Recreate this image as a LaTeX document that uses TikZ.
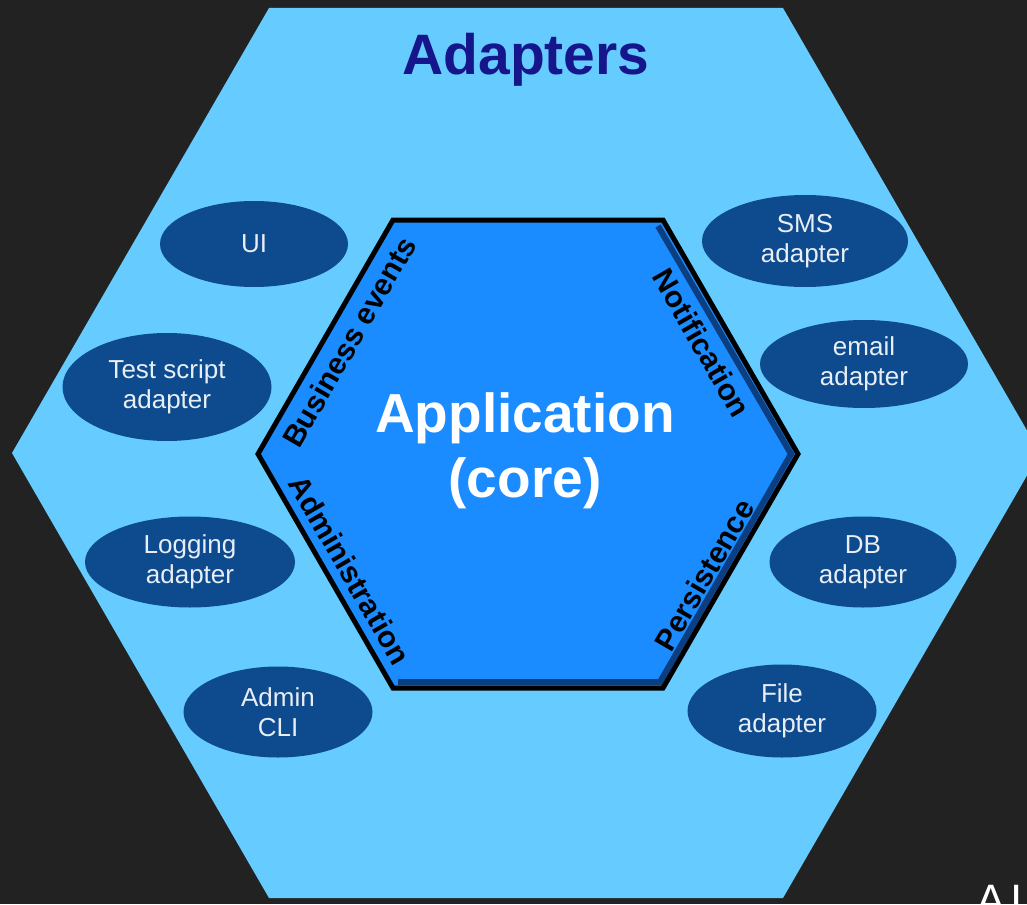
\documentclass[tikz,border=0pt]{standalone}
\usepackage{fontspec}
\setmainfont{Liberation Sans}
\usetikzlibrary{shapes.geometric}
\definecolor{bg}{HTML}{222222}
\definecolor{outerblue}{HTML}{66CCFF}
\definecolor{coreblue}{HTML}{1A8CFF}
\definecolor{ovalblue}{HTML}{0E4A8E}
\definecolor{ovaltext}{HTML}{E8EEF6}
\definecolor{titleblue}{HTML}{16168C}
\definecolor{bevel}{HTML}{0B3F82}
\tikzset{
  adapter/.style={ellipse, fill=ovalblue, text=ovaltext, inner sep=0pt, align=center,
    font=\fontsize{26}{30}\selectfont},
  edgelabel/.style={font=\bfseries\fontsize{30}{32}\selectfont, text=black, inner sep=0pt},
  corelabel/.style={font=\bfseries\fontsize{55}{65}\selectfont, text=white, align=center, inner sep=0pt},
}
\begin{document}
\begin{tikzpicture}[x=1pt,y=-1pt]
\useasboundingbox (0,0) rectangle (1027,904);
\fill[bg] (0,0) rectangle (1027,904);
% outer hexagon (adapters)
\fill[outerblue] (12,453) -- (269,8) -- (783,8) -- (1040,453) -- (783,898) -- (269,898) -- cycle;
% inner hexagon (core)
\fill[coreblue] (258,454) -- (393,220) -- (663,220) -- (798,454) -- (663,688) -- (393,688) -- cycle;
\draw[bevel, line width=6pt, line join=miter] (658,226) -- (791,454) -- (660,682) -- (398,682);
\draw[black, line width=5pt, line join=miter] (258,454) -- (393,220) -- (663,220) -- (798,454) -- (663,688) -- (393,688) -- cycle;

\node[font=\bfseries\fontsize{57}{60}\selectfont, text=titleblue, anchor=base, inner sep=0pt] (title) at (526,75) {Adapters};

\node[corelabel] (core) at (525,451) {Application\\(core)};

\node[edgelabel, rotate=60]  (business) at (349,342) {Business events};
\node[edgelabel, rotate=-60] (admin)    at (350,570) {Administration};
\node[edgelabel, rotate=-60] (notif)    at (702,343) {Notification};
\node[edgelabel, rotate=60]  (persist)  at (704,575) {Persistence};

\node[adapter, minimum width=188pt, minimum height=86pt]  (ui)      at (254,244) {UI};
\node[adapter, minimum width=209pt, minimum height=108pt] (test)    at (167,387) {Test script\\adapter};
\node[adapter, minimum width=210pt, minimum height=91pt]  (logging) at (190,562) {Logging\\adapter};
\node[adapter, minimum width=189pt, minimum height=91pt]  (cli)     at (278,712) {Admin\\CLI};
\node[adapter, minimum width=206pt, minimum height=92pt]  (sms)     at (805,241) {SMS\\adapter};
\node[adapter, minimum width=208pt, minimum height=88pt]  (email)   at (864,364) {email\\adapter};
\node[adapter, minimum width=187pt, minimum height=91pt]  (db)      at (863,562) {DB\\adapter};
\node[adapter, minimum width=189pt, minimum height=93pt]  (file)    at (782,711) {File\\adapter};

\node[font=\fontsize{44}{48}\selectfont, text=white, anchor=base west, inner sep=0pt] (ai) at (976,915) {A\hspace{5pt}I};
\end{tikzpicture}
\end{document}
